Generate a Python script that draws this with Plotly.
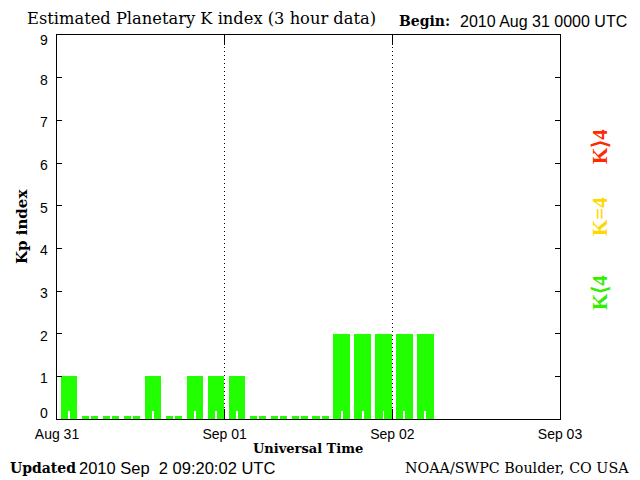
import plotly.graph_objects as go
import pandas as pd
import numpy as np

# ---- data ----
slot_start = pd.date_range("2010-08-31 00:00", periods=18, freq="3h")
kp_values = [1, 0, 0, 0, 1, 0, 1, 1,
             1, 0, 0, 0, 0, 2, 2, 2,
             2, 2]
day_ticks = pd.date_range("2010-08-31", periods=4, freq="D")
day_labels = ["Aug 31", "Sep 01", "Sep 02", "Sep 03"]
y_ticks = list(range(10))
title_text = "Estimated Planetary K index (3 hour data)"
begin_text = "2010 Aug 31 0000 UTC"
updated_text = "2010 Sep \u00a02 09:20:02 UTC"
credit_text = "NOAA/SWPC Boulder, CO USA"

H = 3600000  # ms per hour
kp = np.array(kp_values, dtype=float)
shown = np.maximum(kp, 0.07)          # zero values drawn as thin stubs
notch = np.minimum(shown, 0.19)

# page has an 8px body margin; figure is sized to fit the 640x480 window
OFF = 8
W, HH = 640 - OFF, 480 - OFF
L, R, T = 57 - OFF, 80, 35 - OFF
B = HH - (419 - OFF)
pw, ph = W - L - R, HH - T - B

def px(x):   # page pixel -> paper
    return (x - OFF - L) / pw

def py(y):
    return (HH - B - (y - OFF)) / ph

green = "#22ff00"

fig = go.Figure()
fig.add_trace(go.Bar(x=slot_start, y=shown, offset=0.57 * H, width=2.33 * H,
                     marker=dict(color=green, line=dict(width=0)),
                     hoverinfo="skip", showlegend=False))
fig.add_trace(go.Bar(x=slot_start, y=notch, offset=(0.57 + 2.33 / 2 - 0.07) * H,
                     width=0.14 * H,
                     marker=dict(color="white", line=dict(width=0)),
                     hoverinfo="skip", showlegend=False))

serif = "DejaVu Serif"
sans = "Liberation Sans"

fig.update_layout(
    width=W, height=HH, barmode="overlay", bargap=0,
    margin=dict(l=L, r=R, t=T, b=B),
    paper_bgcolor="white", plot_bgcolor="white",
    xaxis=dict(type="date", range=[day_ticks[0], day_ticks[-1]],
               tickvals=day_ticks, ticktext=day_labels,
               ticks="inside", ticklen=10, tickcolor="black",
               showline=True, linecolor="black", linewidth=1, mirror="ticks",
               showgrid=True, gridcolor="black", griddash="1px,3px", gridwidth=1,
               zeroline=False, ticklabelstandoff=2,
               tickfont=dict(family=sans, size=14, color="black")),
    yaxis=dict(range=[0, 9], tickvals=y_ticks, ticks="inside", ticklen=5,
               tickcolor="black", showline=True, linecolor="black", linewidth=1,
               mirror="ticks", showgrid=False, zeroline=False,
               showticklabels=False),
)

ann = []
def add(text, x, y, xanchor="left", yanchor="middle", family=serif, size=15,
        color="black", bold=False, angle=0):
    t = f"<b>{text}</b>" if bold else text
    ann.append(dict(text=t, x=px(x), y=py(y),
                    xref="paper", yref="paper",
                    xanchor=xanchor, yanchor=yanchor, showarrow=False,
                    textangle=angle, font=dict(family=family, size=size, color=color)))

# y tick labels (0 nudged up, 9 nudged down, as in the original)
for v in y_ticks:
    shift = -2
    if v == 0:
        shift = 6
    elif v == 9:
        shift = -5
    ann.append(dict(text=str(v), x=px(50), y=v, xref="paper", yref="y",
                    xanchor="right", yanchor="middle", showarrow=False, yshift=shift,
                    font=dict(family=sans, size=14, color="black")))

add(title_text, 25, 19, size=16.3)
add("Begin:", 397, 21, bold=True, size=14)
add(begin_text, 458, 21, family=sans, size=16)
add("Updated", 8, 468, bold=True, size=14)
add(updated_text, 77, 468, family=sans, size=16.5)
add(credit_text, 631, 468, xanchor="right", size=14.3)
add("Universal Time", 308, 448, xanchor="center", bold=True, size=13)
add("Kp index", 22, 227, xanchor="center", bold=True, size=15, angle=-90)
add("K\u27e94", 600, 147, xanchor="center", family="Liberation Serif", size=21,
    color="#ff2a00", angle=-90, bold=True)
add("K=4", 600, 217, xanchor="center", family="Liberation Serif", size=21,
    color="#ffd800", angle=-90, bold=True)
add("K\u27e84", 600, 293, xanchor="center", family="Liberation Serif", size=21,
    color="#33ee00", angle=-90, bold=True)
fig.update_layout(annotations=ann)

fig.write_html("out.html")
